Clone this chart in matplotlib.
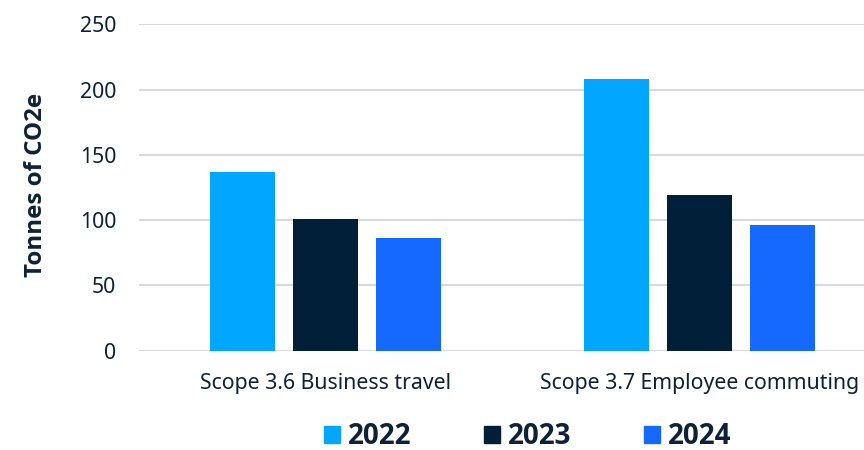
import os
import numpy as np
import matplotlib
matplotlib.use("Agg")
import matplotlib.pyplot as plt
from matplotlib import font_manager
from matplotlib.patches import Patch

plt.rcParams['font.family'] = ['Noto Sans', 'DejaVu Sans']


def bold_family():
    # pick the first family that really has a bold face installed
    for fam in ['Noto Sans', 'Open Sans', 'Lato', 'Roboto']:
        path = font_manager.findfont(font_manager.FontProperties(family=fam, weight='bold'),
                                     fallback_to_default=False)
        name = os.path.basename(path).lower()
        if 'bold' in name and 'semi' not in name:
            return fam
    return 'DejaVu Sans'


bold_fam = bold_family()

categories = ["Scope 3.6 Business travel", "Scope 3.7 Employee commuting"]
years = ["2022", "2023", "2024"]
values = {
    "2022": [137, 208],
    "2023": [101, 119],
    "2024": [86, 96],
}
colors = {"2022": "#00A6FF", "2023": "#011F38", "2024": "#1669FF"}
text_color = "#0D2238"

fig = plt.figure(figsize=(8.64, 4.5), dpi=100)
# axes right edge runs past the image, as in the original (cropped)
ax = fig.add_axes([139 / 864, 1 - 350.7 / 450, (864 - 139) / 864, (350.7 - 24.2) / 450])

x = np.arange(len(categories))
width = 0.174
step = 0.222
for i, yr in enumerate(years):
    ax.bar(x + (i - 1) * step, values[yr], width, color=colors[yr], zorder=3)

ax.set_xlim(-0.5, 1.44)
ax.set_ylim(0, 250)
ax.set_yticks([0, 50, 100, 150, 200, 250])
ax.set_xticks(x)
ax.set_xticklabels(categories)
ax.grid(axis='y', color='#D9D8E2', linewidth=1.5, zorder=0)
ax.tick_params(length=0, labelsize=15.3, colors=text_color)
ax.tick_params(axis='x', pad=16)
ax.tick_params(axis='y', pad=16.5)
for s in ax.spines.values():
    s.set_visible(False)

ax.set_ylabel("Tonnes of CO2e", fontsize=17.4, fontweight='bold', family=[bold_fam, 'DejaVu Sans'],
              color=text_color)
ax.yaxis.set_label_coords(-0.126, 0.509)

handles = [Patch(color=colors[yr], label=yr) for yr in years]
fig.legend(handles=handles, loc='center', bbox_to_anchor=(0.6105, 0.03), ncol=3,
           frameon=False, handlelength=0.58, handleheight=0.58, handletextpad=0.29,
           columnspacing=2.6, borderpad=0.2,
           prop={'size': 20, 'weight': 'bold', 'family': [bold_fam, 'DejaVu Sans']},
           labelcolor=text_color)

fig.savefig("out.png", dpi=100)
